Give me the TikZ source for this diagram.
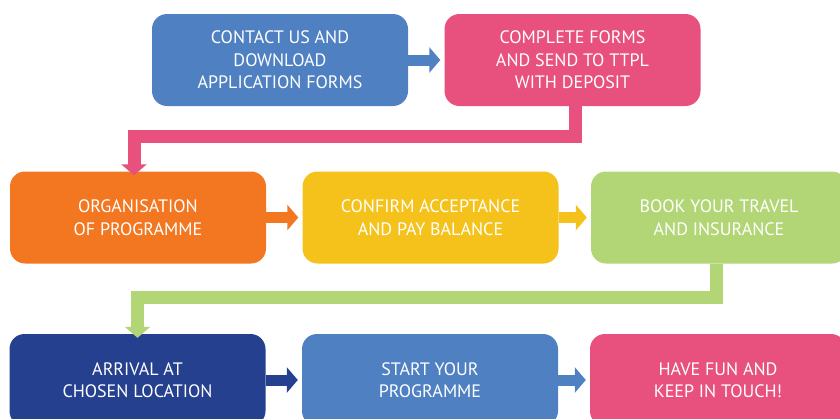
\documentclass[tikz,border=0pt]{standalone}
\usepackage{fontspec}
\setmainfont{PT Sans}
\usetikzlibrary{arrows.meta}
\definecolor{cblue}{HTML}{4F81C2}
\definecolor{cpink}{HTML}{E8507E}
\definecolor{corange}{HTML}{F37721}
\definecolor{cyellow}{HTML}{F5C21B}
\definecolor{cgreen}{HTML}{B2D675}
\definecolor{cnavy}{HTML}{25408F}
\tikzset{
  stepbox/.style={rectangle, rounded corners=15pt, minimum width=256pt, minimum height=92pt,
    inner sep=0pt, text=white, align=center, font=\fontsize{18}{22.5}\selectfont},
  harrow/.style={line width=11pt, -{Triangle[width=25pt,length=11pt]}, shorten >=4pt},
  conn/.style={line width=13pt, line join=miter, -{Triangle[width=25pt,length=11pt]}}
}
\begin{document}
\begin{tikzpicture}[x=1pt,y=-1pt]
\useasboundingbox (0,0) rectangle (840,418);
\clip (0,0) rectangle (840,418);
\node[stepbox, fill=cblue] (b1) at (280,60) {CONTACT US AND\\DOWNLOAD\\APPLICATION FORMS};
\node[stepbox, fill=cpink] (b2) at (572.5,60) {COMPLETE FORMS\\AND SEND TO TTPL\\WITH DEPOSIT};
\node[stepbox, fill=corange] (b4) at (138,217.5) {ORGANISATION\\OF PROGRAMME};
\node[stepbox, fill=cyellow] (b5) at (430.5,217.5) {CONFIRM ACCEPTANCE\\AND PAY BALANCE};
\node[stepbox, fill=cgreen] (b6) at (719,217.5) {BOOK YOUR TRAVEL\\AND INSURANCE};
\node[stepbox, fill=cnavy] (b7) at (137.5,380) {ARRIVAL AT\\CHOSEN LOCATION};
\node[stepbox, fill=cblue] (b8) at (430,380) {START YOUR\\PROGRAMME};
\node[stepbox, fill=cpink] (b9) at (718,380) {HAVE FUN AND\\KEEP IN TOUCH!};
\draw[harrow, cblue] (b1.east) -- (b2.west);
\draw[harrow, corange] (b4.east) -- (b5.west);
\draw[harrow, cyellow] (b5.east) -- (b6.west);
\draw[harrow, cnavy] (b7.east) -- (b8.west);
\draw[harrow, cblue] (b8.east) -- (b9.west);
\draw[conn, cpink] ([xshift=3pt]b2.south) -- ++(0,30.5) -| ([xshift=-4pt,yshift=-4pt]b4.north);
\draw[conn, cgreen] ([xshift=-2.5pt]b6.south) -- ++(0,34) -| ([yshift=-4pt]b7.north);
\end{tikzpicture}
\end{document}
